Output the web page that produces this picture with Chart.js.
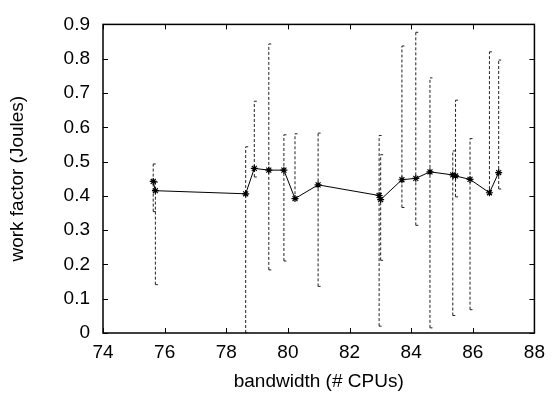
<!DOCTYPE html>
<html>
<head>
<meta charset="utf-8">
<script src="https://cdn.jsdelivr.net/npm/chart.js@4"></script>
<style>
  body { margin: 0; background: #fff; }
  #wrap { width: 553px; height: 394px; }
</style>
</head>
<body>
<div id="wrap"><canvas id="chart"></canvas></div>
<script>
const bandwidth = [75.63, 75.70, 78.63, 78.91, 79.38, 79.87, 80.23, 80.98, 82.96, 83.01, 83.70, 84.15, 84.61, 85.35, 85.44, 85.91, 86.54, 86.84];
const workFactor = [0.442, 0.415, 0.406, 0.480, 0.475, 0.475, 0.392, 0.432, 0.401, 0.389, 0.447, 0.451, 0.470, 0.461, 0.458, 0.448, 0.409, 0.468];
const errHigh = [0.493, 0.44, 0.543, 0.676, 0.843, 0.578, 0.581, 0.583, 0.576, 0.520, 0.837, 0.877, 0.744, 0.531, 0.679, 0.567, 0.820, 0.796];
const errLow = [0.354, 0.141, 0.0, 0.455, 0.184, 0.210, 0.39, 0.136, 0.020, 0.212, 0.366, 0.314, 0.015, 0.051, 0.397, 0.068, 0.405, 0.420];
const xTicks = [74, 76, 78, 80, 82, 84, 86, 88];
const yTicks = [0, 0.1, 0.2, 0.3, 0.4, 0.5, 0.6, 0.7, 0.8, 0.9];

const font = { family: "'Liberation Sans', Arial, sans-serif", size: 19 };

// one small dataset per error bar
const errSets = bandwidth.map((x, i) => ({
  data: [{ x: x, y: errLow[i] }, { x: x, y: errHigh[i] }],
  showLine: true,
  borderColor: '#222',
  borderWidth: 1,
  borderDash: [3, 2],
  pointStyle: 'dash',
  pointRadius: 2.5,
  pointBorderColor: '#222',
  pointBorderWidth: 1,
  order: 2
}));

// gnuplot-like frame with inward ticks on all four sides
const frame = {
  id: 'frame',
  afterDraw(chart) {
    const { ctx, chartArea: a, scales } = chart;
    ctx.save();
    ctx.strokeStyle = '#000';
    ctx.lineWidth = 1;
    ctx.beginPath();
    xTicks.forEach(v => {
      const px = Math.round(scales.x.getPixelForValue(v)) + 0.5;
      ctx.moveTo(px, a.bottom); ctx.lineTo(px, a.bottom - 5);
      ctx.moveTo(px, a.top); ctx.lineTo(px, a.top + 5);
    });
    yTicks.forEach(v => {
      const py = Math.round(scales.y.getPixelForValue(v)) + 0.5;
      ctx.moveTo(a.left, py); ctx.lineTo(a.left + 5, py);
      ctx.moveTo(a.right, py); ctx.lineTo(a.right - 5, py);
    });
    ctx.stroke();
    ctx.lineWidth = 1.5;
    ctx.strokeRect(a.left, a.top, a.right - a.left, a.bottom - a.top);
    ctx.restore();
  }
};

new Chart(document.getElementById('chart'), {
  type: 'scatter',
  data: {
    datasets: [{
      data: bandwidth.map((x, i) => ({ x: x, y: workFactor[i] })),
      showLine: true,
      borderColor: '#000',
      borderWidth: 1,
      pointStyle: 'star',
      pointRadius: 3.5,
      pointBorderColor: '#000',
      pointBorderWidth: 1.2,
      order: 1
    }, ...errSets]
  },
  options: {
    responsive: true,
    maintainAspectRatio: false,
    animation: false,
    layout: { padding: { top: 16, right: 15, left: 0, bottom: 0 } },
    plugins: {
      legend: { display: false },
      tooltip: { enabled: false }
    },
    scales: {
      x: {
        type: 'linear',
        min: 74,
        max: 88,
        afterFit: s => { s.height = 61; },
        afterBuildTicks: s => { s.ticks = xTicks.map(v => ({ value: v })); },
        grid: { display: false, drawTicks: false },
        border: { display: false },
        ticks: { color: '#000', font: font, padding: 8, maxRotation: 0 },
        title: {
          display: true,
          text: 'bandwidth (# CPUs)',
          color: '#000',
          font: font,
          padding: { top: 0, bottom: 1 }
        }
      },
      y: {
        type: 'linear',
        min: 0,
        max: 0.9,
        afterFit: s => { s.width = 103; },
        afterBuildTicks: s => { s.ticks = yTicks.map(v => ({ value: v })); },
        grid: { display: false, drawTicks: false },
        border: { display: false },
        ticks: { color: '#000', font: font, padding: 13, callback: v => String(+v.toFixed(1)) },
        title: {
          display: true,
          text: 'work factor (Joules)',
          color: '#000',
          font: font,
          padding: { top: 6, bottom: 6 }
        }
      }
    }
  },
  plugins: [frame]
});
</script>
</body>
</html>
